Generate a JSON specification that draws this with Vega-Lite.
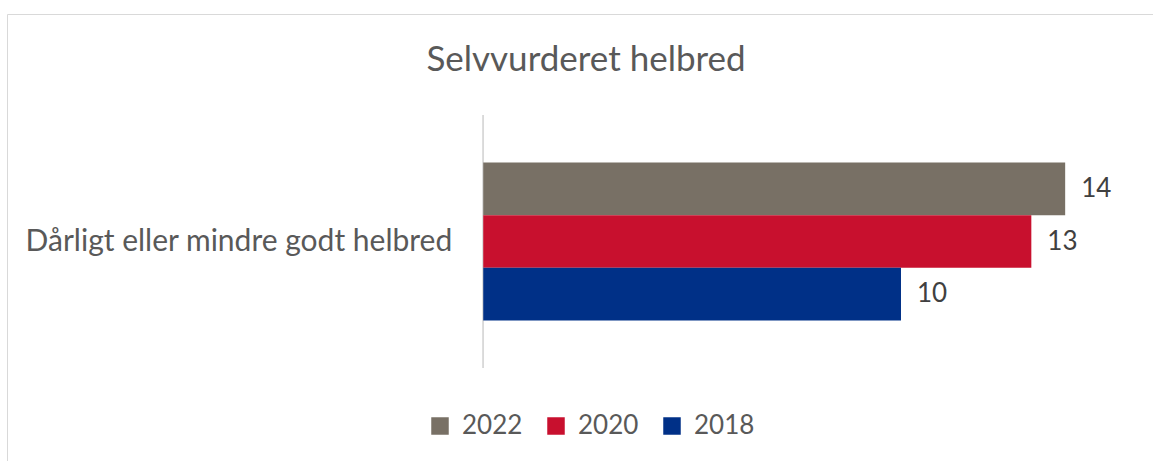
{
  "$schema": "https://vega.github.io/schema/vega-lite/v6.json",
  "width": 1153,
  "height": 460,
  "autosize": {"type": "none"},
  "padding": {"left": 7, "top": 14, "right": -7, "bottom": -13},
  "background": "white",
  "config": {
    "view": {"stroke": "#D9D9D9", "strokeWidth": 1},
    "font": "Lato"
  },
  "title": {
    "text": "Selvvurderet helbred",
    "frame": "group",
    "anchor": "middle",
    "orient": "top",
    "offset": -92,
    "baseline": "alphabetic",
    "dx": 2.5,
    "font": "Lato",
    "fontSize": 35,
    "fontWeight": "normal",
    "color": "#595959"
  },
  "data": {
    "values": [
      {"kategori": "Dårligt eller mindre godt helbred", "aar": "2022", "andel": 13.93},
      {"kategori": "Dårligt eller mindre godt helbred", "aar": "2020", "andel": 13.12},
      {"kategori": "Dårligt eller mindre godt helbred", "aar": "2018", "andel": 10.0}
    ]
  },
  "encoding": {
    "y": {
      "field": "kategori",
      "type": "nominal",
      "axis": null,
      "scale": {"paddingInner": 0, "paddingOuter": 0.409, "align": 0.488}
    }
  },
  "layer": [
    {
      "mark": {"type": "tick", "color": "#D9D9D9", "thickness": 1.5, "size": 253, "opacity": 1},
      "encoding": {
        "x": {"datum": 0, "type": "quantitative", "scale": {"domain": [-11.4, 16.2], "nice": false, "zero": false}, "axis": null}
      }
    },
    {
      "mark": {"type": "bar"},
      "encoding": {
        "x": {"field": "andel", "type": "quantitative", "scale": {"domain": [-11.4, 16.2], "nice": false, "zero": false}, "axis": null},
        "yOffset": {"field": "aar", "type": "nominal", "sort": ["2022", "2020", "2018"], "scale": {"paddingInner": 0, "paddingOuter": 0.902}},
        "color": {
          "field": "aar",
          "type": "nominal",
          "sort": ["2022", "2020", "2018"],
          "scale": {"domain": ["2022", "2020", "2018"], "range": ["#787065", "#C8102E", "#003087"]},
          "legend": {
            "title": null,
            "orient": "none",
            "direction": "horizontal",
            "legendX": 420,
            "legendY": 399,
            "symbolType": "square",
            "symbolSize": 306,
            "symbolStrokeWidth": 0,
            "symbolOpacity": 1,
            "labelFont": "Lato",
            "labelFontSize": 26,
            "labelColor": "#595959",
            "labelOffset": 9,
            "columnPadding": 20,
            "padding": 0
          }
        }
      }
    },
    {
      "mark": {"type": "text", "align": "left", "baseline": "middle", "dx": 16, "fontSize": 26, "font": "Lato", "color": "#404040"},
      "encoding": {
        "x": {"field": "andel", "type": "quantitative", "scale": {"domain": [-11.4, 16.2], "nice": false, "zero": false}, "axis": null},
        "yOffset": {"field": "aar", "type": "nominal", "sort": ["2022", "2020", "2018"], "scale": {"paddingInner": 0, "paddingOuter": 0.902}},
        "text": {"field": "andel", "type": "quantitative", "format": ".0f"}
      }
    },
    {
      "transform": [{"filter": "datum.aar == '2022'"}],
      "mark": {"type": "text", "align": "right", "baseline": "middle", "dx": -31, "fontSize": 30, "font": "Lato", "color": "#595959"},
      "encoding": {
        "x": {"datum": 0, "type": "quantitative", "scale": {"domain": [-11.4, 16.2], "nice": false, "zero": false}, "axis": null},
        "text": {"field": "kategori", "type": "nominal"}
      }
    }
  ]
}
